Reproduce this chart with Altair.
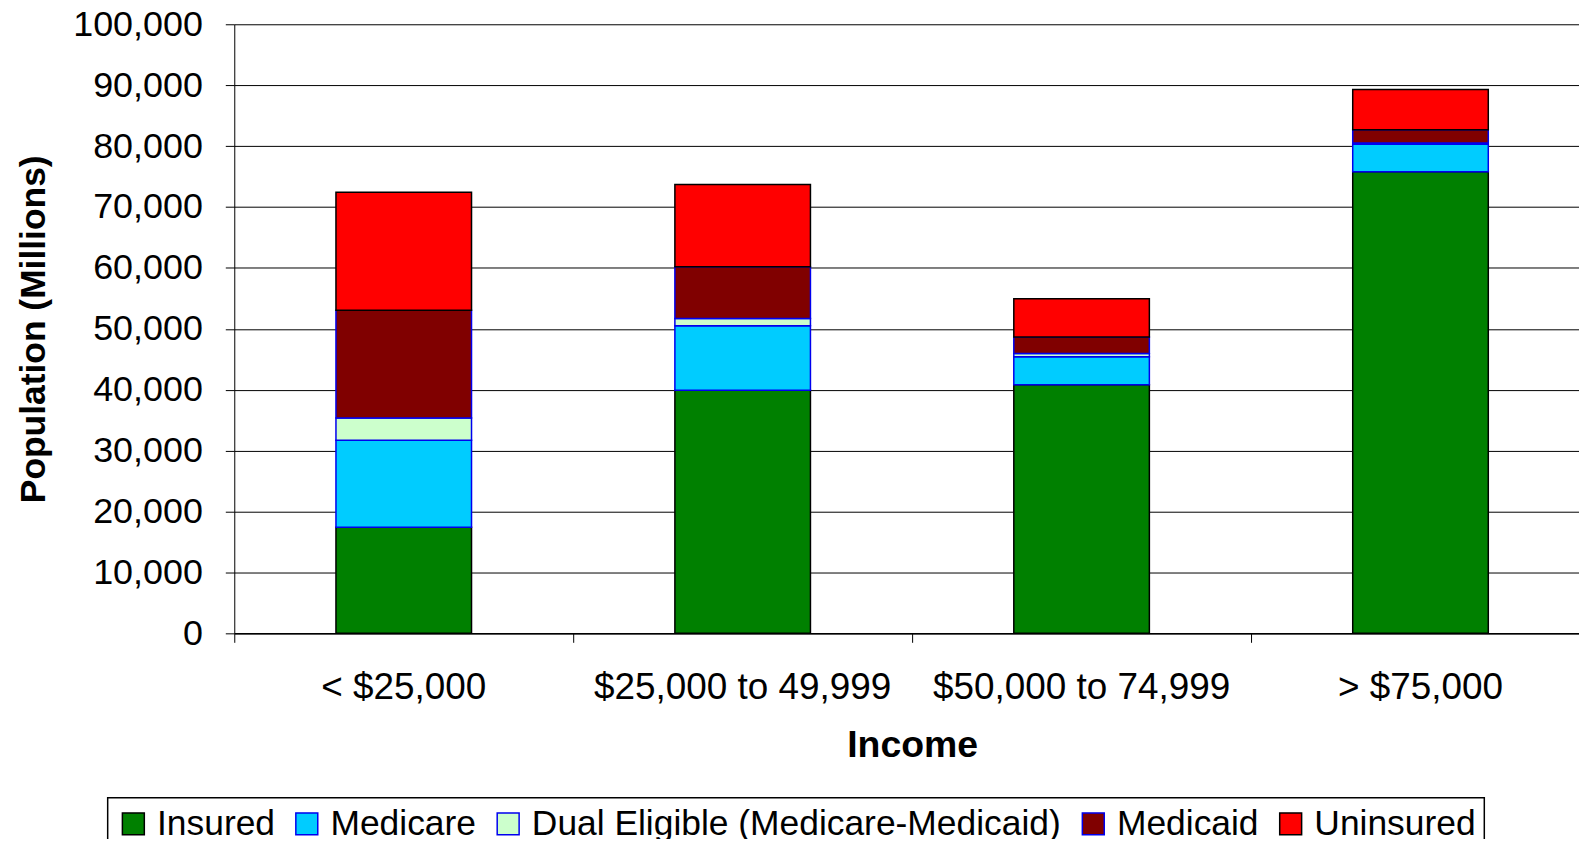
import altair as alt
import pandas as pd

categories = ["< $25,000", "$25,000 to 49,999", "$50,000 to 74,999", "> $75,000"]
series = ["Insured", "Medicare", "Dual Eligible (Medicare-Medicaid)", "Medicaid", "Uninsured"]
insured = [17400, 39900, 40800, 75800]
medicare = [14300, 10600, 4600, 4500]
dual = [3650, 1200, 550, 200]
medicaid = [17700, 8500, 2700, 2200]
uninsured = [19350, 13500, 6300, 6600]
y_ticks = [0, 10000, 20000, 30000, 40000, 50000, 60000, 70000, 80000, 90000, 100000]

fills = ["#008000", "#00CCFF", "#CCFFCC", "#800000", "#FF0000"]
strokes = ["#000000", "#0000EE", "#0000EE", "#0000EE", "#000000"]

rows = []
for s_i, (s, vals) in enumerate(zip(series, [insured, medicare, dual, medicaid, uninsured])):
    for c, v in zip(categories, vals):
        rows.append({"Income": c, "Series": s, "Value": v, "order": s_i})
df = pd.DataFrame(rows)

FONT = "Liberation Sans"

legend = alt.Legend(
    orient="none", legendX=-127, legendY=776, direction="horizontal", columns=5,
    title=None, symbolType="square", symbolSize=484, symbolStrokeWidth=1.5,
    labelFontSize=35.5, labelFont=FONT, labelColor="black", labelOffset=6,
    columnPadding=14, padding=8, strokeColor="black", labelLimit=1000,
)

chart = alt.Chart(df).mark_bar(strokeWidth=1.5).encode(
    x=alt.X("Income:N", sort=categories,
            scale=alt.Scale(paddingInner=0.6, paddingOuter=0.3),
            axis=alt.Axis(title="Income", labelAngle=0, bandPosition=-0.75, grid=False,
                          tickSize=9, labelPadding=27, labelFontSize=37, labelLimit=1000,
                          titleFontSize=37.5, titleFontWeight="bold",
                          titleY=124, titleBaseline="alphabetic",
                          domainWidth=1.5)),
    y=alt.Y("Value:Q", stack="zero",
            scale=alt.Scale(domain=[0, 100000], nice=False),
            axis=alt.Axis(values=y_ticks, format=",d", title="Population (Millions)",
                          tickSize=9, labelPadding=23, labelFontSize=36,
                          titleFontSize=35.5, titleFontWeight="bold",
                          titleAngle=270, titleX=-190, titleY=305.5,
                          titleBaseline="alphabetic", titleAlign="center",
                          grid=True, gridColor="black", gridWidth=1)),
    color=alt.Color("Series:N", scale=alt.Scale(domain=series, range=fills), legend=legend),
    stroke=alt.Stroke("Series:N", scale=alt.Scale(domain=series, range=strokes), legend=legend),
    order=alt.Order("order:Q", sort="ascending"),
).properties(
    width=1360, height=611,
    autosize=alt.AutoSizeParams(type="none"),
    padding={"left": 227, "top": 15, "right": -11, "bottom": 205},
).configure_view(stroke=None).configure_axis(
    labelFont=FONT, titleFont=FONT, labelColor="black", titleColor="black",
    domainColor="black", tickColor="black",
).configure_legend(strokeWidth=1.5)

chart.save("out.html", embed_options={"renderer": "svg", "actions": False})
